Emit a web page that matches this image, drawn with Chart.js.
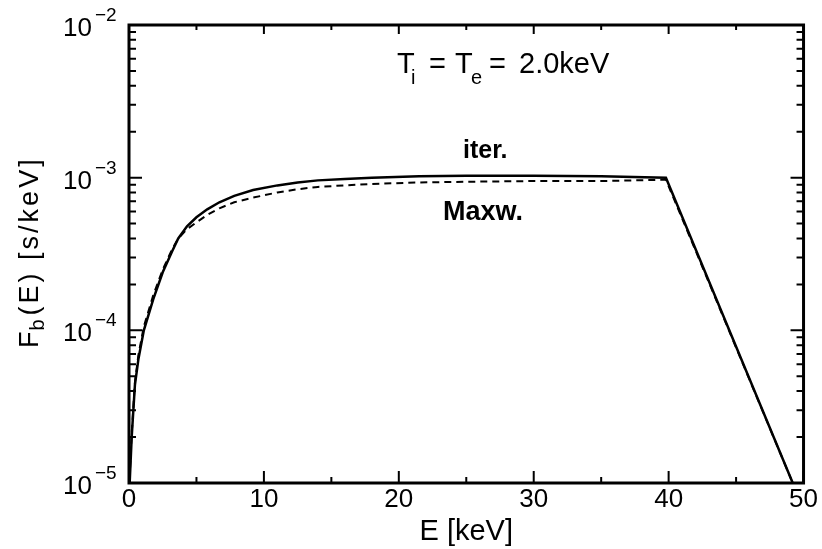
<!DOCTYPE html>
<html lang="en">
<head>
    <meta charset="UTF-8">
    <title>Fb(E) iter. vs Maxw.</title>
    <script src="https://cdn.jsdelivr.net/npm/chart.js@4.4.1/dist/chart.umd.min.js"></script>
    <style>
        body {
            margin: 0;
            background: #fff;
        }
    </style>
</head>
<body>
    <canvas id="myChart" width="822" height="549"></canvas>

    <script>
        // energy grid [keV] and the two curves
        const energyIter = [0.05, 0.2, 0.44, 0.7, 1.1, 1.8, 2.5, 3.2, 3.65, 4.3, 5.0, 5.8, 6.7, 7.8, 9.2, 11, 12.5, 14, 16, 18, 21.5, 25, 30, 35, 39.8, 49.2];
        const fIter = [1.0e-5, 2.0e-5, 4.4e-5, 6.5e-5, 1.0e-4, 1.6e-4, 2.4e-4, 3.3e-4, 4.0e-4, 4.8e-4, 5.5e-4, 6.2e-4, 6.9e-4, 7.6e-4, 8.3e-4, 8.9e-4, 9.3e-4, 9.6e-4, 9.8e-4, 1.0e-3, 1.02e-3, 1.03e-3, 1.03e-3, 1.02e-3, 1.0e-3, 1.0e-5];

        const energyMaxw = [0.04, 0.2, 0.44, 0.7, 1.1, 1.8, 2.5, 3.2, 3.65, 4.3, 5.0, 5.8, 6.7, 7.8, 9.2, 11, 12.5, 14, 16, 18, 21.5, 25, 30, 35, 39.8, 49.2];
        const fMaxw = [1.05e-5, 2.1e-5, 4.6e-5, 6.9e-5, 1.06e-4, 1.7e-4, 2.5e-4, 3.4e-4, 4.0e-4, 4.6e-4, 5.1e-4, 5.7e-4, 6.3e-4, 6.9e-4, 7.4e-4, 8.0e-4, 8.4e-4, 8.7e-4, 8.9e-4, 9.1e-4, 9.3e-4, 9.4e-4, 9.5e-4, 9.5e-4, 9.7e-4, 1.0e-5];

        // axis ticks
        const xMajor = [0, 10, 20, 30, 40, 50];
        const xMinor = [5, 15, 25, 35, 45];
        const yDecades = [1e-5, 1e-4, 1e-3, 1e-2];
        const yExponents = ['\u22125', '\u22124', '\u22123', '\u22122'];
        const yMinorMult = [2, 3, 4, 5, 6, 7, 8, 9];

        const fontName = '"Liberation Sans", Arial, sans-serif';

        // frame, inward ticks, y labels and text in the plot
        const framePlugin = {
            id: 'framePlugin',
            afterDraw(chart) {
                const ctx = chart.ctx;
                const a = chart.chartArea;
                const x = chart.scales.x;
                const y = chart.scales.y;
                ctx.save();
                ctx.strokeStyle = '#000';
                ctx.fillStyle = '#000';

                ctx.lineWidth = 2;
                ctx.beginPath();
                xMajor.forEach(v => {
                    const px = x.getPixelForValue(v);
                    ctx.moveTo(px, a.bottom); ctx.lineTo(px, a.bottom - 12);
                    ctx.moveTo(px, a.top); ctx.lineTo(px, a.top + 9);
                });
                xMinor.forEach(v => {
                    const px = x.getPixelForValue(v);
                    ctx.moveTo(px, a.bottom); ctx.lineTo(px, a.bottom - 6);
                    ctx.moveTo(px, a.top); ctx.lineTo(px, a.top + 5);
                });
                yDecades.forEach((d, i) => {
                    const py = y.getPixelForValue(d);
                    ctx.moveTo(a.left, py); ctx.lineTo(a.left + 13, py);
                    ctx.moveTo(a.right, py); ctx.lineTo(a.right - 13, py);
                    if (i < yDecades.length - 1) {
                        yMinorMult.forEach(m => {
                            const pm = y.getPixelForValue(m * d);
                            ctx.moveTo(a.left, pm); ctx.lineTo(a.left + 7, pm);
                            ctx.moveTo(a.right, pm); ctx.lineTo(a.right - 7, pm);
                        });
                    }
                });
                ctx.stroke();

                ctx.lineWidth = 3;
                ctx.strokeRect(a.left, a.top, a.width, a.height);

                // y tick labels 10^n
                yDecades.forEach((d, i) => {
                    const py = y.getPixelForValue(d);
                    ctx.font = '26px ' + fontName;
                    ctx.textAlign = 'right';
                    ctx.textBaseline = 'alphabetic';
                    ctx.fillText('10', a.left - 37, py + 11);
                    ctx.font = '19px ' + fontName;
                    ctx.textAlign = 'left';
                    ctx.fillText(yExponents[i], a.left - 34, py - 4);
                });

                // y axis title, rotated
                ctx.save();
                ctx.translate(38, 348);
                ctx.rotate(-Math.PI / 2);
                ctx.textAlign = 'left';
                ctx.letterSpacing = '3px';
                ctx.font = '27px ' + fontName;
                ctx.fillText('F', 0, 0);
                let w = ctx.measureText('F').width;
                ctx.font = '20px ' + fontName;
                ctx.fillText('b', w - 2, 6);
                w += ctx.measureText('b').width - 1;
                ctx.font = '27px ' + fontName;
                ctx.fillText('(E) [s/keV]', w, 0);
                ctx.restore();

                // temperature note
                ctx.textAlign = 'left';
                ctx.font = '29px ' + fontName;
                ctx.fillText('T', 397, 73);
                ctx.fillText('=', 429, 73);
                ctx.fillText('T', 455, 73);
                ctx.fillText('=', 489, 73);
                ctx.fillText('2.0keV', 519, 73);
                ctx.font = '20px ' + fontName;
                ctx.fillText('i', 411, 84);
                ctx.fillText('e', 471, 84);

                // curve names
                ctx.font = 'bold 25px ' + fontName;
                ctx.fillText('iter.', 463, 158);
                ctx.font = 'bold 27px ' + fontName;
                ctx.fillText('Maxw.', 443, 220);
                ctx.restore();
            }
        };

        const ctx = document.getElementById('myChart').getContext('2d');
        new Chart(ctx, {
            type: 'line',
            data: {
                datasets: [
                    {
                        label: 'iter.',
                        data: energyIter.map((e, i) => ({ x: e, y: fIter[i] })),
                        borderColor: '#000',
                        borderWidth: 2.5,
                        pointRadius: 0,
                        fill: false,
                        tension: 0
                    },
                    {
                        label: 'Maxw.',
                        data: energyMaxw.map((e, i) => ({ x: e, y: fMaxw[i] })),
                        borderColor: '#000',
                        borderWidth: 2,
                        borderDash: [7, 5],
                        pointRadius: 0,
                        fill: false,
                        tension: 0
                    }
                ]
            },
            options: {
                responsive: false,
                animation: false,
                layout: {
                    padding: { left: 129, top: 25, right: 8, bottom: 0 }
                },
                plugins: {
                    legend: { display: false },
                    tooltip: { enabled: false }
                },
                scales: {
                    x: {
                        type: 'linear',
                        min: 0,
                        max: 50,
                        grid: { display: false, drawTicks: false },
                        border: { display: false },
                        ticks: {
                            stepSize: 10,
                            color: '#000',
                            padding: 4,
                            font: { size: 26, family: fontName, lineHeight: 1 }
                        },
                        title: {
                            display: true,
                            text: 'E [keV]',
                            color: '#000',
                            padding: { top: 0, bottom: 3 },
                            font: { size: 29, family: fontName, lineHeight: 1 }
                        }
                    },
                    y: {
                        type: 'logarithmic',
                        min: 1e-5,
                        max: 1e-2,
                        display: false
                    }
                }
            },
            plugins: [framePlugin]
        });
    </script>
</body>
</html>
